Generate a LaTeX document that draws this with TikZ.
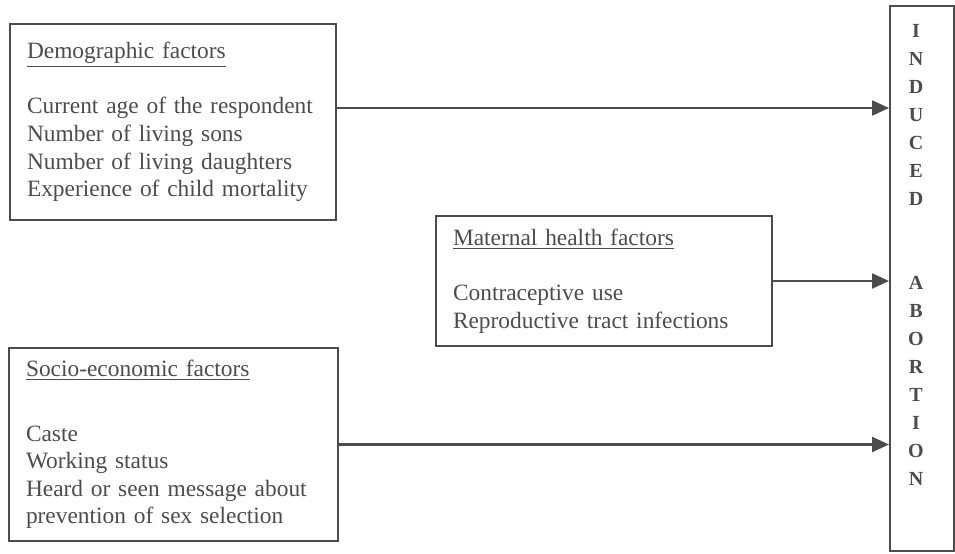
\documentclass[tikz,border=0pt]{standalone}
\usepackage{fontspec}
\setmainfont{Liberation Serif}
\usetikzlibrary{arrows.meta}
\definecolor{ink}{gray}{0.3}

\begin{document}
\begin{tikzpicture}[x=0.5pt,y=-0.5pt,
        factor/.style={draw=ink,line width=1pt,text=ink,align=left,anchor=north west,
            inner xsep=8.5pt,font=\fontsize{11.7}{13.8}\selectfont},
        result/.style={draw=ink,line width=1pt,anchor=north west,
            minimum width=32pt,minimum height=272.5pt},
        link/.style={draw=ink,line width=1.2pt,-{Triangle[length=8.5pt,width=7.5pt]}}]
	\useasboundingbox (0,0) rectangle (955,553);

\node[factor,text width=146pt,minimum height=98pt] (demo) at (9,23)
    {\underline{Demographic factors}\\[13.8pt]
    Current age of the respondent\\
    Number of living sons\\
    Number of living daughters\\
    Experience of child mortality};
\node[factor,text width=151pt,minimum height=65pt] (maternal) at (435,215)
    {\underline{Maternal health factors}\\[13.8pt]
    Contraceptive use\\
    Reproductive tract infections};
\node[factor,text width=147.5pt,minimum height=96.5pt] (socio) at (8,347)
    {\underline{Socio-economic factors}\\[18.5pt]
    Caste\\
    Working status\\
    Heard or seen message about\\
    prevention of sex selection};

\node[result,label={[anchor=north,yshift=-6pt,xshift=-3pt,align=center,text=ink,
        font=\fontsize{10}{14}\selectfont\bfseries]north:I\\N\\D\\U\\C\\E\\D\\[28pt]A\\B\\O\\R\\T\\I\\O\\N}]
    (outcome) at (889,5) {};

	\draw[link] ([yshift=7pt]demo.east) -- ([yshift=7pt]demo.east -| outcome.west);
	\draw[link] (maternal.east) -- (maternal.east -| outcome.west);
	\draw[link] (socio.east) -- (socio.east -| outcome.west);
\end{tikzpicture}
\end{document}
